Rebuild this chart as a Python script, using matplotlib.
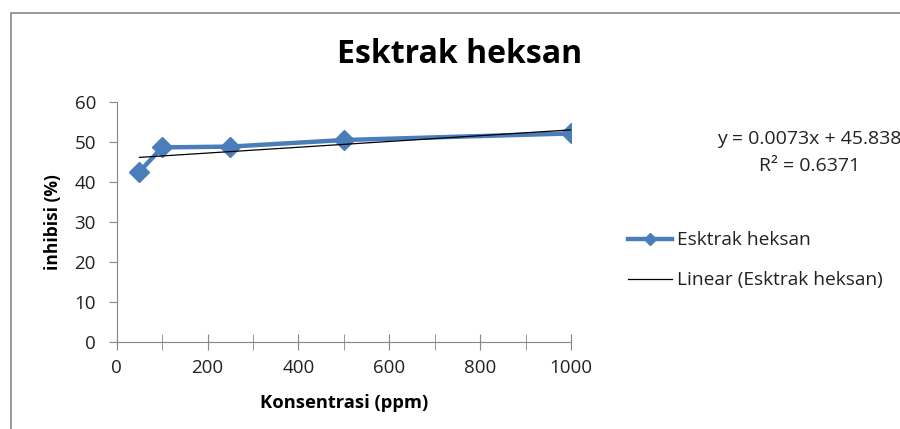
import numpy as np
import matplotlib.pyplot as plt
from matplotlib.patches import Rectangle

# data
konsentrasi = [50, 100, 250, 500, 1000]      # ppm
inhibisi = [42.6, 48.7, 48.9, 50.55, 52.2]   # %
persamaan = "y = 0.0073x + 45.838"
r_kuadrat = "R² = 0.6371"

plt.rcParams['font.family'] = ['Open Sans', 'DejaVu Sans']

fig = plt.figure(figsize=(9, 4.29), dpi=100)
fig.patches.append(Rectangle((11 / 900, -0.1), 1.2, 1 - 13 / 429 + 0.1,
                             transform=fig.transFigure, fill=False,
                             edgecolor='#868686', linewidth=1.2))

ax = fig.add_axes([0.1297, 0.2035, 0.5047, 0.558])

biru = '#4A7EBB'
ax.plot(konsentrasi, inhibisi, color=biru, linewidth=3.2, marker='D',
        markersize=10, label='Esktrak heksan', zorder=3)

# trendline linear
k = np.polyfit(konsentrasi, inhibisi, 1)
xt = np.array([min(konsentrasi), max(konsentrasi)])
ax.plot(xt, np.polyval(k, xt), color='black', linewidth=0.9,
        label='Linear (Esktrak heksan)', zorder=4)

ax.set_xlim(0, 1000)
ax.set_ylim(0, 60)
ax.set_xticks(range(0, 1001, 200))
ax.set_xticks(range(0, 1001, 100), minor=True)
ax.set_yticks(range(0, 61, 10))

for s in ['top', 'right']:
    ax.spines[s].set_visible(False)
for s in ['left', 'bottom']:
    ax.spines[s].set_color('#868686')
ax.tick_params(axis='y', direction='out', length=6, color='#868686',
               labelsize=13.5, pad=9, labelcolor='#222222')
ax.tick_params(axis='x', which='both', direction='inout', length=11,
               color='#868686', labelsize=13.5, pad=7, labelcolor='#222222')

ax.set_xlabel('Konsentrasi (ppm)', fontsize=13.2, fontweight='bold', labelpad=12)
ax.set_ylabel('inhibisi (%)', fontsize=12.5, fontweight='bold', labelpad=9)

fig.text(0.511, 0.872, 'Esktrak heksan', ha='center', va='center',
         fontsize=23, fontweight='bold')

fig.text(0.899, 0.675, persamaan, ha='center', va='center', fontsize=14,
         color='#222222')
fig.text(0.899, 0.612, r_kuadrat, ha='center', va='center', fontsize=14,
         color='#222222')

leg = ax.legend(loc='center left', bbox_to_anchor=(0.687, 0.393),
                bbox_transform=fig.transFigure, frameon=False,
                fontsize=13.8, handlelength=2.3, handletextpad=0.25,
                labelspacing=1.15, markerscale=0.6, borderpad=0)
for t in leg.get_texts():
    t.set_color('#222222')

fig.savefig('out.png', dpi=100)
